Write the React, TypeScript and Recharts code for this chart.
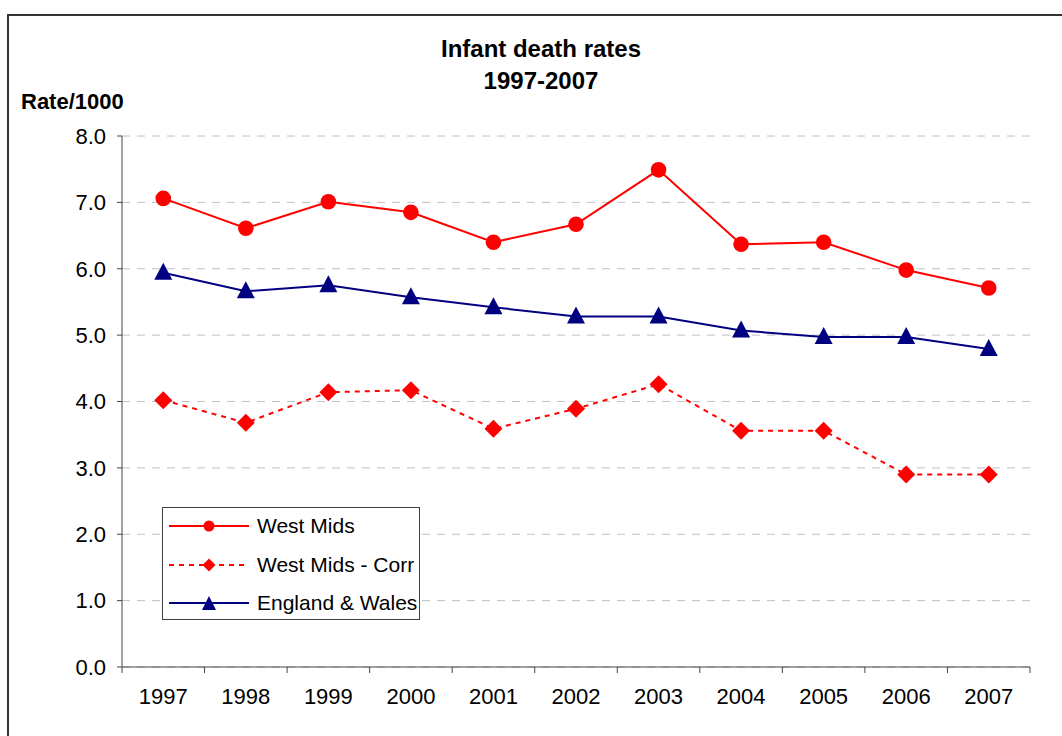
import React from "react";
import { LineChart, Line, XAxis, YAxis, CartesianGrid } from "recharts";

const years = ["1997", "1998", "1999", "2000", "2001", "2002", "2003", "2004", "2005", "2006", "2007"];
const westMids = [7.06, 6.61, 7.01, 6.85, 6.4, 6.67, 7.49, 6.37, 6.4, 5.98, 5.71];
const westMidsCorr = [4.02, 3.68, 4.14, 4.17, 3.59, 3.89, 4.26, 3.56, 3.56, 2.9, 2.9];
const englandWales = [5.94, 5.66, 5.75, 5.57, 5.42, 5.28, 5.28, 5.07, 4.97, 4.97, 4.79];
const yTicks = [0, 1, 2, 3, 4, 5, 6, 7, 8];

const FONT = "'Liberation Sans', Arial, sans-serif";
const RED = "#ff0000";
const NAVY = "#000080";
const AXIS = "#444444";

const data = years.map((year, idx) => ({
  idx,
  year,
  westMids: westMids[idx],
  westMidsCorr: westMidsCorr[idx],
  englandWales: englandWales[idx],
}));

// integer positions carry labels, half positions carry the tick marks between categories
const xTicks: number[] = [];
for (let i = 0; i <= years.length * 2; i++) xTicks.push(i / 2 - 0.5);

function XTick(props: any) {
  const { x, y, payload } = props;
  const v = payload.value as number;
  if (!Number.isInteger(v)) {
    return <line x1={x} y1={y} x2={x} y2={y + 6} stroke={AXIS} strokeWidth={1} />;
  }
  return (
    <text x={x} y={y + 21} dy="0.71em" textAnchor="middle" fill="#000" fontSize={22} fontFamily={FONT}>
      {years[v]}
    </text>
  );
}

function Diamond(props: any) {
  const { cx, cy, size = 9 } = props;
  if (cx == null || cy == null) return null;
  return (
    <polygon
      points={`${cx},${cy - size} ${cx + size},${cy} ${cx},${cy + size} ${cx - size},${cy}`}
      fill={RED}
    />
  );
}

function Triangle(props: any) {
  const { cx, cy, w = 9, up = 10, down = 7 } = props;
  if (cx == null || cy == null) return null;
  return <polygon points={`${cx},${cy - up} ${cx + w},${cy + down} ${cx - w},${cy + down}`} fill={NAVY} />;
}

const legendItems = [
  { name: "West Mids", color: RED, dash: undefined as string | undefined, marker: "circle" },
  { name: "West Mids - Corr", color: RED, dash: "5 5", marker: "diamond" },
  { name: "England & Wales", color: NAVY, dash: undefined, marker: "triangle" },
];

function ChartLegend() {
  return (
    <div
      style={{
        position: "absolute",
        left: 162,
        top: 507,
        width: 256,
        height: 111,
        border: "1.5px solid #404040",
        background: "#fff",
        fontFamily: FONT,
        fontSize: 21,
      }}
    >
      {legendItems.map((it, i) => (
        <div key={it.name} style={{ position: "absolute", left: 0, top: 1 + i * 38.5, height: 34, display: "flex", alignItems: "center" }}>
          <svg width={92} height={34}>
            <line x1={6} y1={17} x2={86} y2={17} stroke={it.color} strokeWidth={2} strokeDasharray={it.dash} />
            {it.marker === "circle" && <circle cx={46} cy={17} r={5.5} fill={it.color} />}
            {it.marker === "diamond" && <Diamond cx={46} cy={17} size={6.5} />}
            {it.marker === "triangle" && <Triangle cx={46} cy={18} w={7} up={8} down={6} />}
          </svg>
          <span style={{ marginLeft: 2, whiteSpace: "nowrap", color: "#000" }}>{it.name}</span>
        </div>
      ))}
    </div>
  );
}

export default function App() {
  return (
    <div style={{ position: "absolute", left: 0, top: 0, width: 1062, height: 736, overflow: "hidden", background: "#fff" }}>
      <div
        style={{
          position: "absolute",
          left: 7,
          top: 14,
          width: 1100,
          height: 800,
          border: "2px solid #333",
          boxSizing: "border-box",
        }}
      />
      <div
        style={{
          position: "absolute",
          left: 341,
          top: 33,
          width: 400,
          textAlign: "center",
          fontFamily: FONT,
          fontWeight: "bold",
          fontSize: 24,
          lineHeight: "32px",
          color: "#000",
        }}
      >
        <div>Infant death rates</div>
        <div>1997-2007</div>
      </div>
      <div
        style={{
          position: "absolute",
          left: 21,
          top: 89,
          fontFamily: FONT,
          fontWeight: "bold",
          fontSize: 22,
          color: "#000",
        }}
      >
        Rate/1000
      </div>
      <div style={{ position: "absolute", left: 0, top: 0 }}>
        <LineChart width={1062} height={736} data={data} margin={{ top: 136, right: 32, bottom: 29, left: 62 }}>
          <CartesianGrid vertical={false} stroke="#c0c0c0" strokeDasharray="8 7" />
          <XAxis
            dataKey="idx"
            type="number"
            domain={[-0.5, 10.5]}
            ticks={xTicks}
            interval={0}
            tick={<XTick />}
            tickLine={false}
            tickSize={0}
            tickMargin={0}
            axisLine={{ stroke: AXIS, strokeWidth: 1 }}
            height={40}
          />
          <YAxis
            domain={[0, 8]}
            ticks={yTicks}
            interval={0}
            tickFormatter={(v: number) => v.toFixed(1)}
            tick={{ fill: "#000", fontSize: 22, fontFamily: FONT }}
            tickLine={{ stroke: AXIS }}
            tickSize={5}
            tickMargin={11}
            axisLine={{ stroke: AXIS, strokeWidth: 1 }}
            width={60}
          />
          <Line
            dataKey="westMids"
            stroke={RED}
            strokeWidth={2}
            dot={{ r: 7.8, fill: RED, stroke: RED, strokeWidth: 0 }}
            isAnimationActive={false}
          />
          <Line
            dataKey="westMidsCorr"
            stroke={RED}
            strokeWidth={2}
            strokeDasharray="5 5"
            dot={(p: any) => <Diamond key={p.index} cx={p.cx} cy={p.cy} size={9} />}
            isAnimationActive={false}
          />
          <Line
            dataKey="englandWales"
            stroke={NAVY}
            strokeWidth={2}
            dot={(p: any) => <Triangle key={p.index} cx={p.cx} cy={p.cy} />}
            isAnimationActive={false}
          />
        </LineChart>
      </div>
      <ChartLegend />
    </div>
  );
}
